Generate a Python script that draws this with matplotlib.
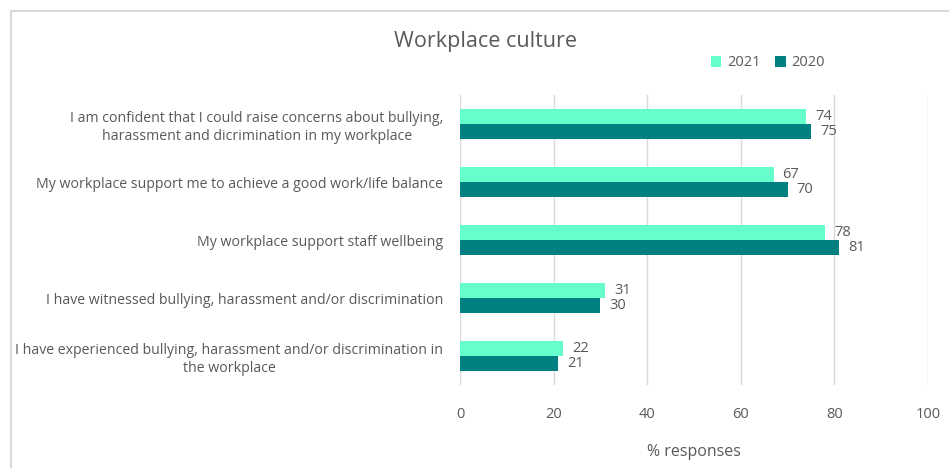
import numpy as np
import matplotlib.pyplot as plt
from matplotlib.patches import Rectangle

plt.rcParams['font.family'] = ['Open Sans', 'DejaVu Sans']

# data
categories = [
    'I am confident that I could raise concerns about bullying,\nharassment and dicrimination in my workplace',
    'My workplace support me to achieve a good work/life balance',
    'My workplace support staff wellbeing',
    'I have witnessed bullying, harassment and/or discrimination',
    'I have experienced bullying, harassment and/or discrimination in\nthe workplace',
]
vals_2021 = [74, 67, 78, 31, 22]
vals_2020 = [75, 70, 81, 30, 21]
xticks = [0, 20, 40, 60, 80, 100]

c21 = '#66FFCC'
c20 = '#008080'
txt = '#595959'

W, H = 949, 468
fig = plt.figure(figsize=(W / 100, H / 100), dpi=100)
ax = fig.add_axes([460 / W, 1 - 385 / H, (928 - 460) / W, (385 - 95) / H])

y = np.arange(len(categories))
bh = 0.26
b1 = ax.barh(y - bh / 2, vals_2021, height=bh, color=c21, label='2021')
b2 = ax.barh(y + bh / 2, vals_2020, height=bh, color=c20, label='2020')

for bars in (b1, b2):
    for r in bars:
        ax.text(r.get_width() + 1.9, r.get_y() + r.get_height() / 2, f'{r.get_width():.0f}',
                va='center', ha='left', fontsize=10.5, color=txt)

ax.set_ylim(len(categories) - 0.5, -0.5)
ax.set_xlim(0, 100)
ax.set_xticks(xticks)
ax.set_yticks(y)
ax.set_yticklabels(categories, fontsize=10.2, color=txt, multialignment='center', linespacing=1.3)
ax.tick_params(axis='x', colors=txt, labelsize=10.5, length=0, pad=16)
ax.tick_params(axis='y', length=0, pad=12)
ax.grid(axis='x', color='#D9D9D9', linewidth=1)
ax.set_axisbelow(True)
for s in ax.spines.values():
    s.set_visible(False)

ax.set_xlabel('% responses', fontsize=11.5, color=txt, labelpad=16)

fig.text(486 / W, 1 - 42 / H, 'Workplace culture', ha='center', va='center', fontsize=15.5, color=txt)
fig.legend(handles=[b1, b2], loc='center', bbox_to_anchor=(768 / W, 1 - 63 / H), ncol=2,
           frameon=False, fontsize=10.5, labelcolor=txt, handlelength=0.7, handleheight=0.7,
           columnspacing=1.0, handletextpad=0.4)

fig.patches.append(Rectangle((11 / W, -0.1), 1.0, 1 - 11 / H + 0.1, transform=fig.transFigure,
                             fill=False, edgecolor='#D9D9D9', linewidth=1.5))

fig.savefig('out.png', dpi=100)
